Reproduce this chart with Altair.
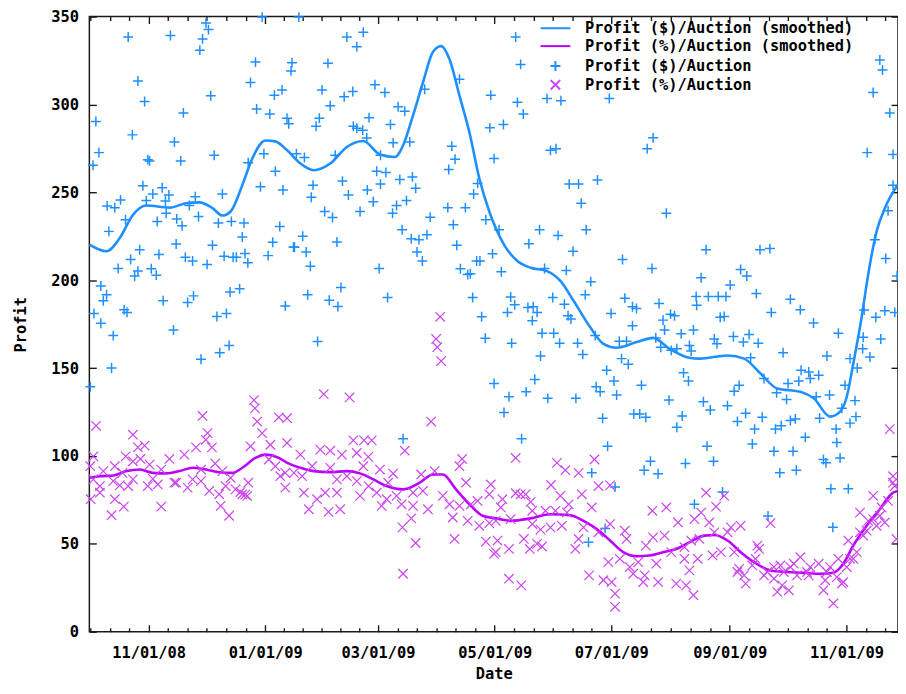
import altair as alt
import pandas as pd

# ---------------- data ----------------
# day = days since 2008-10-01, value = profit
START = pd.Timestamp("2008-10-01")
END_DAY = 423.0

blue_points = [
    (20.3,338.4),(42.4,339.2),(61.0,346.4),(62.3,342.6),(59.2,337.3),(57.8,330.9),(90.4,349.7),(25.4,313.4),
    (28.9,301.7),(63.5,305.0),(49.2,295.2),(86.9,324.1),(84.3,312.5),(106.0,323.8),(105.5,319.1),(100.8,308.3),
    (96.8,305.3),(87.5,297.4),(94.4,294.6),(103.4,292.2),(104.3,289.0),(3.4,290.3),(22.5,282.7),(44.5,278.6),
    (5.0,272.6),(1.9,265.4),(30.6,268.6),(31.5,267.9),(47.8,267.9),(65.3,271.1),(83.1,266.9),(91.3,272.0),
    (97.3,262.0),(89.5,253.2),(101.3,251.3),(28.0,253.8),(38.1,252.6),(33.2,249.1),(41.6,248.5),(39.8,245.1),
    (55.4,247.5),(69.6,249.1),(16.3,245.7),(13.3,241.3),(9.3,242.3),(29.8,245.3),(40.2,238.1),(52.3,242.5),
    (57.1,236.3),(18.9,234.4),(35.5,233.4),(45.7,234.9),(48.5,231.0),(67.5,232.5),(74.3,233.4),(80.9,232.5),
    (80.0,224.6),(10.2,227.8),(99.6,230.6),(95.9,221.6),(106.8,218.9),(26.3,217.3),(36.4,214.6),(45.4,220.6),
    (64.4,219.9),(70.5,213.7),(75.2,213.1),(76.9,213.1),(81.4,215.2),(82.9,209.9),(93.5,214.0),(50.2,213.1),
    (54.0,210.9),(61.6,209.0),(21.6,211.8),(15.1,206.7),(25.4,205.2),(23.7,202.4),(32.4,206.5),(35.0,202.9),
    (6.0,196.7),(9.0,191.7),(7.3,188.3),(38.6,188.3),(51.4,187.3),(54.5,191.1),(73.6,193.3),(78.6,195.2),
    (18.2,183.2),(19.7,181.7),(2.4,181.1),(6.0,175.5),(66.7,179.4),(71.7,181.1),(102.5,185.4),(44.0,171.7),
    (12.5,168.5),(58.4,155.0),(68.2,158.7),(73.1,162.9),(11.6,150.1),(0.5,139.4),
    (109.6,349.7),(134.7,338.4),(143.3,341.1),(139.9,332.8),(124.8,323.4),(121.7,308.3),(133.3,304.4),(137.8,307.4),
    (149.4,311.2),(154.6,306.8),(126.0,299.3),(161.5,298.7),(165.0,296.1),(120.3,292.2),(118.6,287.6),(146.3,292.5),
    (157.5,288.6),(138.1,287.6),(139.9,286.5),(143.0,285.4),(145.1,280.9),(158.9,278.2),(167.6,278.6),(128.6,271.1),
    (108.3,272.0),(112.5,269.8),(152.3,271.1),(175.4,308.7),(193.6,314.4),(210.0,305.3),(209.5,286.7),(189.6,276.2),
    (191.3,268.8),(188.0,263.0),(211.7,269.2),(150.3,262.0),(155.1,261.3),(162.4,257.3),(169.0,258.8),(170.7,252.3),
    (152.3,254.7),(145.4,251.3),(132.4,256.4),(117.0,254.1),(116.1,247.2),(135.5,248.5),(148.5,244.7),(141.6,239.1),
    (160.7,242.5),(158.6,238.1),(165.9,245.3),(123.1,239.1),(127.2,235.7),(178.3,235.9),(187.5,241.3),(196.7,241.3),
    (201.0,249.1),(203.1,255.1),(207.4,234.4),(190.4,231.6),(192.2,219.9),(210.9,215.0),(111.6,225.0),(107.3,218.8),
    (113.4,216.1),(115.6,208.0),(129.5,221.8),(163.6,228.7),(168.4,223.6),(172.4,223.1),(176.6,225.9),(171.4,216.1),
    (174.2,210.9),(151.6,206.7),(194.1,206.5),(197.9,203.3),(199.3,203.7),(202.6,210.9),(204.3,210.9),(131.6,195.8),
    (114.2,191.7),(125.5,188.6),(130.0,185.1),(156.0,190.2),(200.5,190.2),(205.2,179.2),
    (119.4,165.1),(207.1,167.0),(211.7,141.2),(164.1,109.8),
    (223.0,338.4),(225.6,322.8),(223.9,301.2),(227.0,294.6),(239.4,303.4),(246.7,302.1),(272.0,303.4),(216.6,288.6),
    (294.9,281.0),(291.8,274.8),(241.2,273.9),(244.1,274.8),(251.0,254.7),(255.9,254.7),(265.8,257.0),(257.3,243.8),
    (301.8,238.1),(235.5,228.7),(245.2,225.5),(259.9,228.7),(214.3,228.7),(229.9,220.8),(253.0,216.5),(215.5,204.8),
    (238.1,206.7),(249.5,205.6),(278.9,211.8),(294.3,206.7),(262.3,199.2),(259.4,191.7),(220.4,190.5),(222.5,186.0),
    (218.7,181.7),(229.4,184.5),(232.2,184.9),(234.2,181.7),(231.7,177.0),(242.4,190.2),(248.5,186.4),(250.4,179.8),
    (251.9,177.9),(272.9,181.1),(280.1,189.8),(284.1,184.9),(286.2,183.9),(284.1,174.1),(298.0,186.8),(304.0,180.7),
    (306.1,179.8),(300.1,177.3),(317.4,190.7),(317.7,185.8),
    (236.8,169.8),(242.9,169.8),(220.9,164.2),(246.0,164.2),(255.4,164.2),(236.0,156.9),(258.1,157.8),(300.9,171.7),
    (309.6,169.5),(316.0,171.7),(264.6,168.5),(277.2,165.3),(281.0,165.3),(296.3,167.2),(298.9,161.9),(304.4,160.1),
    (307.3,161.0),(313.9,162.9),(314.8,159.7),(278.4,155.4),(281.9,152.2),(270.6,148.8),(274.4,142.7),(288.8,140.3),
    (310.8,147.3),(313.4,142.7),(233.0,143.5),(228.5,136.5),(219.5,133.7),(239.8,132.8),(254.5,132.8),(265.1,139.4),
    (267.2,136.5),(275.8,134.7),(216.9,124.7),(268.5,121.5),(284.8,123.9),(287.9,123.9),(291.1,122.0),(303.2,131.8),
    (310.1,122.8),(307.3,116.4),(226.1,109.8),(271.1,105.5),(293.5,97.0),(290.2,91.9),(297.5,89.9),(311.8,95.7),
    (262.8,90.4),(275.0,82.3),(316.5,72.5),(269.8,58.8),(261.1,50.9),
    (413.5,325.3),(414.9,319.6),(410.0,306.8),(418.7,295.2),(406.9,272.6),(420.4,271.6),(420.4,254.1),
    (417.8,239.5),(410.9,223.1),(416.6,212.4),(322.6,217.4),(350.8,217.4),(356.0,218.0),(340.7,206.1),(343.9,202.4),
    (320.0,201.4),(335.2,197.3),(348.9,192.4),(323.8,190.7),(329.0,190.7),(333.0,190.7),(366.7,189.2),(371.9,183.2),
    (356.7,181.7),(378.8,175.7),(330.0,178.9),(332.1,179.4),(405.3,183.0),(411.4,178.9),(416.1,182.6),(421.3,181.7),
    (422.5,202.4),
    (391.8,169.8),(326.9,166.6),(328.3,163.8),(336.9,168.0),(342.1,164.8),(345.1,169.1),(349.9,164.2),(362.9,158.7),
    (385.8,156.9),(404.8,167.6),(414.0,166.6),(404.5,161.0),(408.3,156.3),(397.9,155.4),(401.7,150.1),(345.9,155.9),
    (352.9,144.1),(372.3,148.8),(376.3,147.8),(381.5,145.9),(377.1,144.1),(371.1,142.6),(365.5,141.2),(339.9,140.3),
    (337.3,136.9),(359.5,136.0),(364.7,132.2),(380.2,133.7),(387.2,134.7),(395.3,140.3),(400.5,131.5),(393.6,127.1),
    (401.0,122.4),(397.9,118.7),(321.2,130.9),(324.8,126.2),(333.8,128.6),(343.3,124.3),(352.0,122.0),(339.0,119.6),
    (348.0,115.3),(358.9,115.3),(361.9,117.2),(366.7,120.2),(369.3,121.1),(382.0,121.5),(390.6,115.3),(374.5,110.6),
    (391.0,107.7),(323.1,105.5),(346.8,106.8),(358.1,102.7),(368.1,102.7),(326.5,97.0),(384.0,98.0),(385.3,96.1),
    (392.7,98.9),(361.2,90.4),(369.8,91.9),(387.9,81.4),(397.0,81.4),(331.2,79.5),(355.0,65.9),(388.9,59.4),
]

pink_points = [
    (3.5,117.2),(22.8,112.1),(59.2,122.8),(86.1,131.8),(86.6,127.1),(87.8,119.6),(90.4,113.0),(99.1,122.0),
    (103.4,121.5),(61.8,113.0),(60.9,109.2),(25.4,104.9),(28.9,105.9),(55.8,104.9),(64.1,104.9),(84.3,105.5),
    (94.7,106.4),(103.4,107.4),(2.1,99.8),(19.0,99.8),(22.8,97.0),(26.7,98.3),(41.9,98.3),(49.7,100.8),
    (93.9,98.0),(97.3,94.2),(0.5,94.2),(13.3,94.2),(31.5,95.1),(65.8,95.7),(102.5,90.4),(7.3,91.4),
    (17.3,90.4),(37.6,92.3),(58.4,92.3),(69.6,91.4),(2.1,86.7),(12.5,85.7),(22.8,86.7),(33.2,87.0),
    (45.4,84.8),(54.0,86.7),(58.4,85.7),(73.9,87.6),(83.1,84.8),(99.9,88.5),(5.5,82.9),(15.9,83.3),
    (30.6,82.9),(35.8,83.8),(44.5,84.8),(51.4,82.0),(71.3,82.9),(76.5,81.0),(80.0,78.2),(82.6,77.3),
    (62.7,80.1),(67.9,78.2),(0.7,75.4),(5.5,79.1),(13.3,75.4),(20.3,82.9),(102.5,82.0),(11.6,66.3),
    (18.0,71.2),(37.6,71.2),(68.7,71.6),(73.1,66.0),(79.0,79.5),(81.5,78.0),
    (181.4,166.6),(182.0,161.9),(184.0,154.0),(183.5,179.2),(122.6,135.2),(136.1,133.3),(178.8,119.6),(165.0,103.0),
    (138.1,108.9),(143.7,108.9),(147.7,108.9),(120.8,103.6),(126.0,103.0),(132.1,100.8),(139.9,101.7),(110.4,100.8),
    (145.9,99.5),(195.0,98.3),(193.6,94.2),(152.0,92.3),(158.9,90.0),(173.6,89.5),(180.6,91.4),(116.5,94.2),
    (126.0,93.3),(143.3,94.2),(107.0,90.4),(111.3,88.5),(129.5,86.7),(134.7,88.5),(139.9,85.7),(156.3,84.8),
    (197.0,84.8),(210.0,83.8),(112.2,79.1),(123.4,79.1),(129.5,79.1),(146.1,82.9),(150.3,79.1),(155.5,75.4),
    (160.7,77.3),(169.3,79.1),(174.5,80.1),(184.9,77.3),(188.4,72.5),(193.6,71.6),(199.6,72.5),(203.1,74.4),
    (209.2,78.2),(119.1,75.4),(141.6,77.3),(114.8,69.7),(125.1,68.2),(131.2,69.7),(152.9,71.6),(163.3,72.5),
    (169.3,71.6),(177.1,69.7),(190.1,65.0),(168.4,64.5),(197.9,63.1),(204.0,60.3),(209.2,61.8),(163.8,59.4),
    (207.4,51.3),(211.7,44.3),(191.0,52.8),(170.7,50.5),(164.1,33.0),
    (223.0,98.9),(244.6,96.1),(249.0,91.9),(255.9,90.4),(264.2,98.0),(216.1,75.4),(215.2,70.7),(223.0,78.8),
    (225.6,78.2),(228.2,78.2),(230.8,73.9),(241.5,83.5),(246.4,77.3),(257.6,78.2),(266.3,82.9),(272.4,83.3),
    (250.7,72.5),(262.8,70.7),(231.7,68.8),(238.6,68.8),(243.8,68.8),(249.8,67.8),(294.5,68.8),(301.8,70.7),
    (307.9,62.2),(316.5,64.1),(212.6,63.1),(220.4,64.1),(231.7,61.3),(236.0,58.1),(241.2,59.4),(247.2,60.3),
    (258.5,59.4),(266.3,56.6),(272.4,61.3),(280.1,57.5),(281.0,52.8),(291.1,49.0),(294.9,53.7),(300.9,54.7),
    (304.4,45.3),(311.3,48.1),(314.8,51.9),(213.5,51.9),(219.5,47.1),(212.6,45.3),(227.3,52.8),(230.4,47.1),
    (234.2,50.0),(236.8,48.5),(254.2,47.1),(255.9,52.8),(271.5,39.6),(277.5,41.5),(282.7,36.8),(284.5,33.0),
    (287.1,39.6),(289.7,28.3),(296.6,38.7),(290.5,32.1),(297.5,28.3),(307.0,27.4),(312.2,26.4),(316.0,20.8),
    (261.4,32.1),(268.9,29.3),(273.2,28.3),(275.0,21.7),(275.0,14.2),(219.5,30.2),(225.9,26.4),(311.3,41.5),
    (313.9,34.9),
    (418.7,115.3),(420.4,88.5),(420.4,84.8),(422.2,52.8),(322.6,79.1),(332.1,77.3),(327.8,71.2),(320.0,67.8),
    (356.3,61.8),(335.6,59.4),(340.7,60.3),(324.3,62.2),(326.9,56.6),(333.8,56.6),(319.1,52.8),(326.0,43.4),
    (330.4,45.3),(318.2,41.5),(350.3,47.1),(348.5,41.5),(346.8,37.7),(339.0,34.0),(342.5,32.1),(343.3,27.4),
    (352.9,32.1),(358.1,30.2),(362.4,26.4),(365.9,23.6),(359.8,22.7),(366.7,36.8),(371.9,42.4),(370.2,32.1),
    (376.3,32.1),(381.5,38.7),(384.9,29.3),(384.0,23.6),(389.2,16.1),(391.0,31.1),(393.6,27.4),(391.8,41.5),
    (397.0,51.9),(401.4,45.3),(399.6,41.5),(403.1,67.8),(410.0,77.3),(407.4,63.1),(411.8,60.3),(414.4,70.7),
    (417.8,74.4),(421.3,82.9),(404.8,54.7),(396.2,36.8),(363.3,34.0),
    (337.3,45.3),(339.9,35.8),(349.4,49.0),(354.6,34.0),(358.1,36.8),(361.5,37.7),(368.5,38.7),(375.4,34.0),
    (377.1,36.8),(385.8,34.0),(387.5,36.8),(394.4,28.3),(397.9,41.5),(403.1,56.6),(406.6,57.5),(410.0,64.1),
    (413.5,66.0),(416.1,62.2),
]

blue_smooth = [
    (0,220.3),(9.0,216.5),(15.9,224.0),(22.8,237.2),(29.8,242.5),(41.9,241.3),(50.6,243.8),(57.5,244.3),
    (64.4,241.0),(69.6,236.8),(73.9,239.1),(80.0,254.1),(85.2,269.2),(92.1,279.5),(97.3,279.0),(103.5,273.9),
    (110.4,266.4),(117.4,262.6),(126.0,266.4),(134.7,275.8),(143.3,279.2),(152.0,271.5),(159.8,270.1),(164.1,276.7),
    (169.3,293.7),(174.5,312.5),(179.7,329.8),(184.0,333.2),(188.4,325.7),(193.6,305.0),(198.8,284.2),(204.0,257.9),
    (209.2,239.1),(216.9,220.3),(223.9,210.9),(230.8,207.1),(239.4,205.2),(246.4,199.6),(253.3,188.3),(262.0,173.2),
    (268.9,163.8),(275.8,161.6),(286.2,164.8),(294.9,167.2),(303.5,161.0),(313.9,155.9),(319.1,155.4),(333.8,157.2),
    (342.5,155.4),(351.1,146.9),(359.8,138.4),(371.9,136.5),(378.9,132.8),(387.5,122.4),(392.7,125.2),(396.2,133.7),
    (399.6,152.5),(403.1,173.2),(408.3,209.0),(411.8,227.8),(416.1,241.0),(423.0,254.5),
]

pink_smooth = [
    (0,87.6),(5.5,88.5),(12.5,88.9),(19.4,91.4),(26.3,92.3),(33.2,90.4),(40.2,90.1),(47.1,91.4),
    (54.0,93.3),(60.9,92.3),(67.9,90.8),(74.8,90.4),(80.0,93.3),(86.9,98.9),(92.1,100.8),(99.1,98.9),
    (103.5,96.1),(110.4,93.3),(117.4,91.4),(126.0,90.8),(134.7,91.4),(141.6,90.1),(148.5,86.7),(155.5,82.9),
    (164.1,81.0),(172.8,84.8),(179.7,89.5),(184.9,89.5),(191.8,81.0),(198.8,72.5),(205.7,66.0),(212.6,64.5),
    (220.4,63.1),(230.8,64.5),(241.2,66.9),(251.6,66.3),(258.5,63.1),(265.4,58.4),(272.4,51.9),(279.3,45.3),
    (286.2,43.0),(293.1,43.4),(300.1,45.3),(307.0,47.1),(313.9,50.9),(321.7,54.7),(326.9,55.0),(333.8,51.9),
    (340.7,45.3),(347.7,39.6),(356.3,34.9),(365.0,34.0),(373.7,33.6),(382.3,33.0),(389.2,33.6),(394.4,38.7),
    (399.6,49.0),(406.6,60.3),(413.5,69.7),(420.4,79.1),(423.0,80.1),
]

series_names = [
    "Profit ($)/Auction (smoothed)",
    "Profit (%)/Auction (smoothed)",
    "Profit ($)/Auction",
    "Profit (%)/Auction",
]
series_colors = ["#1e8fff", "#bb00ff", "#1e8fff", "#cc44f0"]

major_tick_dates = ["2008-09-01", "2008-11-01", "2009-01-01", "2009-03-01", "2009-05-01",
                    "2009-07-01", "2009-09-01", "2009-11-01", "2010-01-01"]
y_ticks = [0, 50, 100, 150, 200, 250, 300, 350]

# ---------------- helpers ----------------
END = START + pd.Timedelta(days=END_DAY)


def iso(day):
    return (START + pd.Timedelta(days=day)).strftime("%Y-%m-%dT%H:%M:%SZ")


def ms(ts):
    return int(pd.Timestamp(ts).value // 10**6)


def frame(pts, name):
    return pd.DataFrame({
        "date": [iso(d) for d, _ in pts],
        "profit": [v for _, v in pts],
        "series": name,
    })


blue_pts_df = frame(blue_points, series_names[2])
pink_pts_df = frame(pink_points, series_names[3])
blue_line_df = frame(blue_smooth, series_names[0])
pink_line_df = frame(pink_smooth, series_names[1])

majors = [pd.Timestamp(s) for s in major_tick_dates]
major_vals = [ms(t) for t in majors if START <= t <= END]
minor_vals = []
for a, b in zip(majors[:-1], majors[1:]):
    for k in range(1, 6):
        t = a + (b - a) * k / 6
        if START <= t <= END:
            minor_vals.append(ms(t))

FONT = "DejaVu Sans Mono"
FS = 15.5
INK = "#1a1a1a"

PLUS = "M-1,0L1,0M0,-1L0,1"
XMARK = "M-0.95,-0.95L0.95,0.95M-0.95,0.95L0.95,-0.95"
LINE_SAMPLE = "M-3,0L3,0"

xscale = alt.Scale(type="utc", domain=[ms(START), ms(END)], nice=False)
yscale = alt.Scale(domain=[0, 350], nice=False)

color = alt.Color("series:N",
                  scale=alt.Scale(domain=series_names, range=series_colors),
                  legend=alt.Legend(title=None))
shape = alt.Shape("series:N",
                  scale=alt.Scale(domain=series_names, range=[LINE_SAMPLE, LINE_SAMPLE, PLUS, XMARK]),
                  legend=alt.Legend(title=None))

ax_bottom_major = alt.Axis(orient="bottom", values=major_vals, format="%m/%d/%y", offset=-7, tickSize=7,
                           labelPadding=14, title="Date", titlePadding=6, labelFlush=False,
                           labelOverlap=False)
ax_bottom_minor = alt.Axis(orient="bottom", values=minor_vals, offset=-4, tickSize=4, labels=False,
                           title=None)
ax_top_major = alt.Axis(orient="top", values=major_vals, offset=-7, tickSize=7, labels=False, title=None)
ax_top_minor = alt.Axis(orient="top", values=minor_vals, offset=-4, tickSize=4, labels=False, title=None)
ax_left = alt.Axis(orient="left", values=y_ticks, offset=-7, tickSize=7, labelPadding=11,
                   title="Profit", titlePadding=22, labelFlush=False, labelOverlap=False)
ax_right = alt.Axis(orient="right", values=y_ticks, offset=-7, tickSize=7, labels=False, title=None)

blue_line = alt.Chart(blue_line_df).mark_line(strokeWidth=2.6, interpolate="monotone").encode(
    x=alt.X("date:T", scale=xscale, axis=ax_top_major),
    y=alt.Y("profit:Q", scale=yscale, axis=ax_left),
    color=color,
)
pink_line = alt.Chart(pink_line_df).mark_line(strokeWidth=2.6, interpolate="monotone").encode(
    x=alt.X("date:T", scale=xscale, axis=ax_top_minor),
    y=alt.Y("profit:Q", scale=yscale, axis=ax_right),
    color=color,
)
blue_dots = alt.Chart(blue_pts_df).mark_point(filled=False, size=100, strokeWidth=1.5, opacity=1).encode(
    x=alt.X("date:T", scale=xscale, axis=ax_bottom_major),
    y=alt.Y("profit:Q", scale=yscale, axis=None),
    color=color,
    shape=shape,
)
pink_dots = alt.Chart(pink_pts_df).mark_point(filled=False, size=100, strokeWidth=1.2, opacity=1).encode(
    x=alt.X("date:T", scale=xscale, axis=ax_bottom_minor),
    y=alt.Y("profit:Q", scale=yscale, axis=None),
    color=color,
    shape=shape,
)

chart = (
    alt.layer(blue_line, pink_line, blue_dots, pink_dots)
    .resolve_axis(x="independent", y="independent")
    .properties(
        width=815,
        height=620,
        autosize=alt.AutoSizeParams(type="none"),
        padding={"left": 82, "top": 6, "right": 0, "bottom": 50},
        background="white",
    )
    .configure_view(stroke=INK, strokeWidth=1.5)
    .configure_axis(
        domain=False, grid=False, tickColor=INK, tickWidth=1.4,
        labelFont=FONT, labelFontSize=FS, labelFontWeight="bold", labelColor="black",
        titleFont=FONT, titleFontSize=FS, titleFontWeight="bold", titleColor="black",
    )
    .configure_legend(
        orient="none", legendX=462, legendY=4, padding=0,
        labelFont=FONT, labelFontSize=FS, labelFontWeight="bold", labelColor="black",
        labelLimit=0, labelOffset=22, rowPadding=1,
        symbolSize=100, symbolStrokeWidth=2, symbolOpacity=1,
    )
)

chart.save("out.html", embed_options={"renderer": "svg", "actions": False})
